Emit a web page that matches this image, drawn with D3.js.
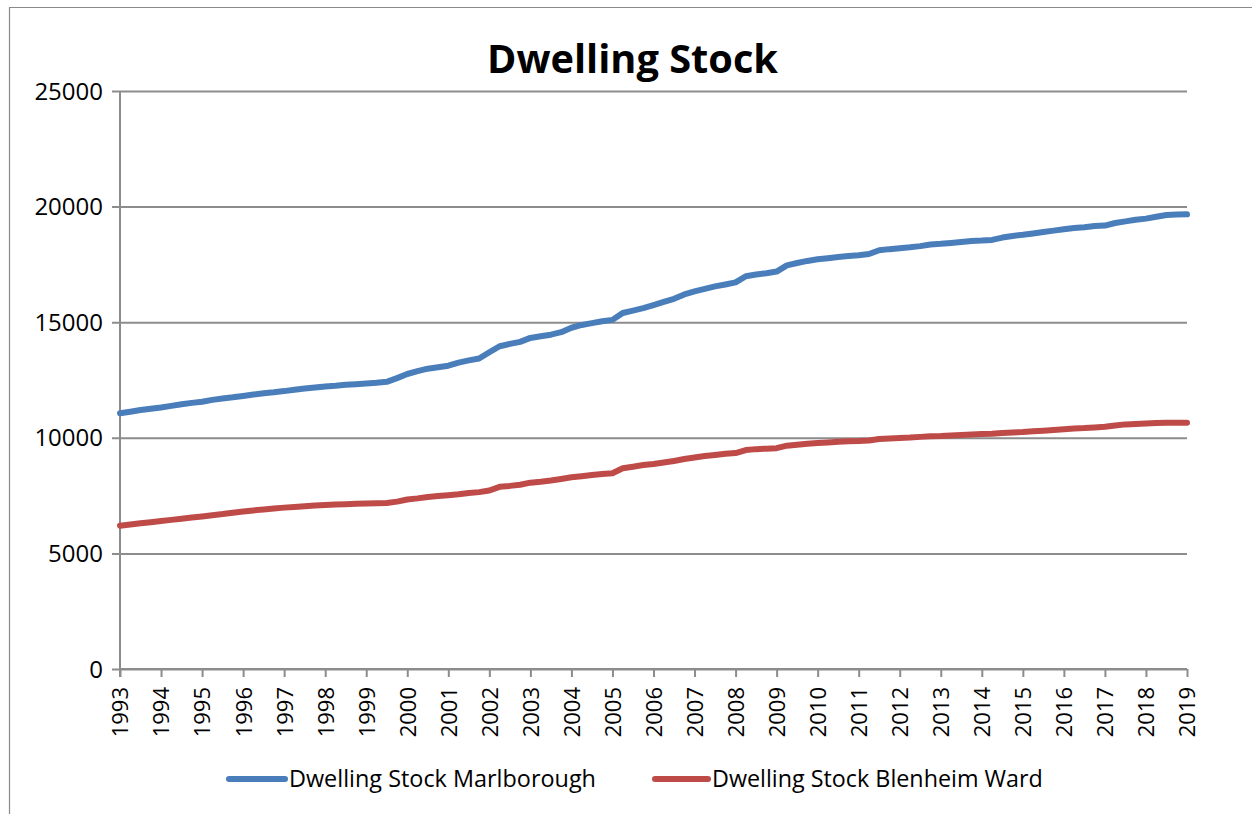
<!DOCTYPE html>
<html>
<head>
<meta charset="utf-8">
<script src="https://cdn.jsdelivr.net/npm/d3@7/dist/d3.min.js"></script>
<style>
  html, body { margin: 0; padding: 0; background: #fff; }
  svg { display: block; }
  text { font-family: "Open Sans", "Liberation Sans", sans-serif; fill: #000; }
</style>
</head>
<body>
<svg id="chart" width="1252" height="814"></svg>
<script>
// Quarterly dwelling stock, 1993 Q1 to 2019 Q1
const years = d3.range(1993, 2020);
const quarters = d3.range(0, 105).map(i => 1993 + i / 4);

const marlborough = [
  11060, 11130, 11200, 11260,
  11310, 11380, 11450, 11510,
  11560, 11640, 11700, 11750,
  11810, 11870, 11930, 11970,
  12020, 12080, 12130, 12180,
  12220, 12250, 12290, 12320,
  12350, 12380, 12420, 12580,
  12760, 12880, 12990, 13050,
  13120, 13250, 13350, 13430,
  13700, 13960, 14060, 14150,
  14320, 14390, 14460, 14570,
  14760, 14880, 14960, 15040,
  15100, 15400, 15500, 15610,
  15740, 15880, 16010, 16200,
  16330, 16440, 16550, 16630,
  16720, 16990, 17060, 17120,
  17190, 17460, 17560, 17650,
  17720, 17770, 17820, 17860,
  17900, 17950, 18110, 18160,
  18200, 18240, 18290, 18360,
  18390, 18430, 18470, 18510,
  18530, 18560, 18660, 18730,
  18780, 18840, 18900, 18960,
  19020, 19070, 19110, 19160,
  19180, 19290, 19360, 19430,
  19480, 19560, 19640, 19660,
  19665
];

const blenheim = [
  6200, 6250, 6300, 6350,
  6400, 6450, 6500, 6550,
  6600, 6650, 6700, 6760,
  6810, 6860, 6900, 6940,
  6980, 7010, 7040, 7070,
  7090, 7110, 7130, 7150,
  7160, 7170, 7180, 7240,
  7330, 7380, 7440, 7480,
  7520, 7560, 7610, 7650,
  7720, 7880, 7920, 7970,
  8060, 8100, 8150, 8220,
  8290, 8340, 8390, 8430,
  8470, 8680, 8750, 8820,
  8870, 8930, 9000, 9080,
  9150, 9210, 9260, 9310,
  9340, 9470, 9510, 9530,
  9550, 9660, 9700, 9740,
  9770, 9800, 9830, 9850,
  9860, 9880, 9950, 9970,
  9990, 10010, 10040, 10070,
  10080, 10100, 10120, 10140,
  10160, 10180, 10210, 10230,
  10250, 10280, 10310, 10340,
  10370, 10400, 10420, 10450,
  10480, 10530, 10580, 10600,
  10620, 10640, 10650, 10650,
  10650
];

const yTicks = [0, 5000, 10000, 15000, 20000, 25000];
const seriesNames = ["Dwelling Stock Marlborough", "Dwelling Stock Blenheim Ward"];
const seriesColors = ["#4a7ebb", "#be4b48"];
const title = "Dwelling Stock";

const svg = d3.select("#chart");
const plot = { left: 120, right: 1187, top: 91, bottom: 669 };

const x = d3.scaleLinear().domain([1993, 2019]).range([plot.left, plot.right]);
const y = d3.scaleLinear().domain([0, 25000]).range([plot.bottom, plot.top]);

// shrink/grow a text element's font size so it spans a given width
function fitWidth(sel, width) {
  const node = sel.node();
  const fs = parseFloat(sel.attr("font-size"));
  const w = node.getComputedTextLength();
  sel.attr("font-size", (fs * width / w).toFixed(2));
}

// outer chart frame
svg.append("path")
  .attr("d", "M9.5,814 L9.5,7.5 L1252,7.5")
  .attr("fill", "none").attr("stroke", "#8a8a8a").attr("stroke-width", 1.2);

// horizontal gridlines (with tick stubs left of the axis)
const yAxis = d3.axisLeft(y).tickValues(yTicks).tickFormat(d3.format("d"))
  .tickSize(-(plot.right - plot.left)).tickSizeOuter(0).tickPadding(17);
const gy = svg.append("g").attr("transform", `translate(${plot.left},0)`).call(yAxis);
gy.select(".domain").remove();
gy.selectAll(".tick line")
  .attr("x1", -8)
  .attr("stroke", "#8c8c8c").attr("stroke-width", 2);
gy.selectAll(".tick text")
  .attr("font-size", 24).attr("fill", "#000")
  .style("font-family", '"Open Sans", sans-serif')
  .attr("dy", "0.34em");

// vertical axis line
svg.append("line")
  .attr("x1", plot.left).attr("x2", plot.left)
  .attr("y1", plot.top).attr("y2", plot.bottom + 8)
  .attr("stroke", "#8c8c8c").attr("stroke-width", 2);

// horizontal axis
const xAxis = d3.axisBottom(x).tickValues(years).tickFormat(d3.format("d")).tickSize(8).tickSizeOuter(0);
const gx = svg.append("g").attr("transform", `translate(0,${plot.bottom})`).call(xAxis);
gx.select(".domain").attr("stroke", "#8c8c8c").attr("stroke-width", 2)
  .attr("d", `M${plot.left},0H${plot.right}`);
gx.selectAll(".tick line").attr("stroke", "#8c8c8c").attr("stroke-width", 2);
gx.selectAll(".tick text")
  .attr("font-size", 22).attr("fill", "#000")
  .style("font-family", '"Open Sans", sans-serif')
  .attr("text-anchor", "end")
  .attr("transform", "rotate(-90)")
  .attr("x", -18).attr("y", 0).attr("dy", "0.36em");

// series lines
const line = d3.line().x((d, i) => x(quarters[i])).y(d => y(d));
[marlborough, blenheim].forEach((vals, k) => {
  svg.append("path")
    .datum(vals)
    .attr("d", line)
    .attr("fill", "none")
    .attr("stroke", seriesColors[k])
    .attr("stroke-width", 6)
    .attr("stroke-linejoin", "round")
    .attr("stroke-linecap", "round");
});

// title
const t = svg.append("text")
  .attr("x", 632.5).attr("y", 73)
  .attr("text-anchor", "middle")
  .attr("font-size", 40).attr("font-weight", "bold")
  .text(title);
fitWidth(t, 291);

// legend
const legend = [
  { x1: 229, x2: 285, tx: 289, tw: 307 },
  { x1: 655, x2: 708, tx: 712, tw: 331 }
];
legend.forEach((l, k) => {
  svg.append("line")
    .attr("x1", l.x1).attr("x2", l.x2)
    .attr("y1", 779).attr("y2", 779)
    .attr("stroke", seriesColors[k]).attr("stroke-width", 6)
    .attr("stroke-linecap", "round");
  const lt = svg.append("text")
    .attr("x", l.tx).attr("y", 787)
    .attr("font-size", 22)
    .text(seriesNames[k]);
  fitWidth(lt, l.tw);
});
</script>
</body>
</html>
